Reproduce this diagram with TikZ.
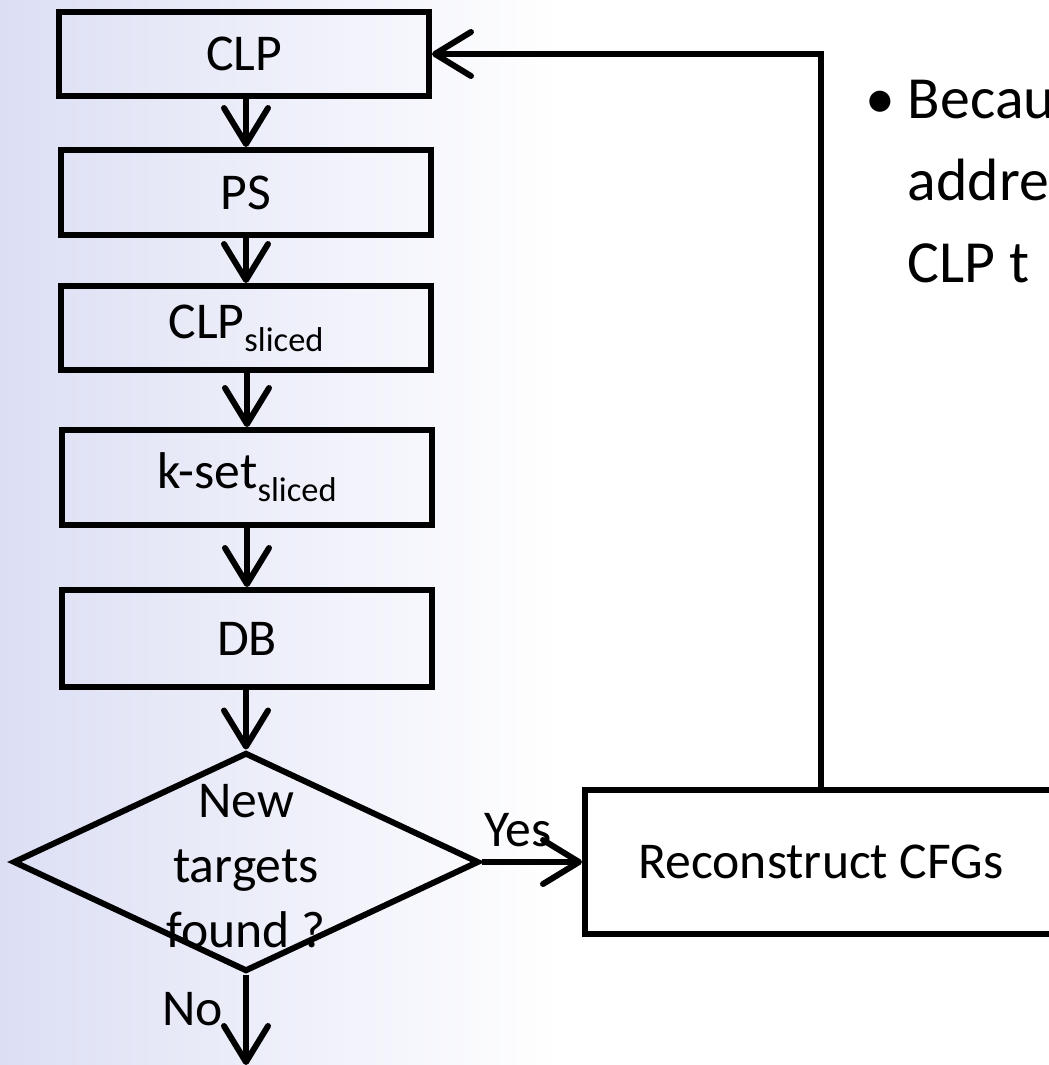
\documentclass[tikz,border=0pt]{standalone}
\usepackage{fontspec}
\setmainfont{Carlito}
\usetikzlibrary{arrows.meta,shapes.geometric}

\definecolor{bgblue}{RGB}{220,223,244}
\newcommand{\lowsub}[1]{\raisebox{-0.25em}{\fontsize{9.8}{10}\selectfont #1}}

\begin{document}
\begin{tikzpicture}[
    line width=1.7pt,
    >={Straight Barb[length=3.6mm,width=4.4mm,round]},
    every node/.style={font=\fontsize{14.7}{17.5}\selectfont},
    stepbox/.style={draw, rectangle, minimum width=3.7cm, inner sep=0pt},
    notetext/.style={anchor=base west, inner sep=0pt, font=\fontsize{17}{20}\selectfont}
  ]
  % page and background fading from lavender to white
  \useasboundingbox (0,0) rectangle (10.49,-10.65);
  \fill[white] (0,0) rectangle (10.49,-10.65);
  \shade[left color=bgblue, right color=white, draw=none] (0,0) rectangle (5.6,-10.65);
  \clip (0,0) rectangle (10.49,-10.65);

  % main column
  \node[stepbox, minimum height=0.84cm] (clp) at (2.44,-0.54) {CLP};
  \node[stepbox, minimum height=0.85cm] (ps) at (2.46,-1.925) {PS};
  \node[stepbox, minimum height=0.84cm] (clpsl) at (2.46,-3.28) {CLP\lowsub{sliced}};
  \node[stepbox, minimum height=0.95cm] (kset) at (2.47,-4.775) {k-set\lowsub{sliced}};
  \node[stepbox, minimum height=0.97cm] (db) at (2.47,-6.385) {DB};
  \node[diamond, draw, minimum width=4.66cm, minimum height=2.19cm, inner sep=0pt] (found) at (2.46,-8.62) {};
  \node[align=center, inner sep=0pt, font=\fontsize{14.7}{18.6}\selectfont] (foundtxt) at (2.46,-8.66) {New\\targets\\found ?};
  \node[draw, rectangle, minimum width=4.72cm, minimum height=1.44cm] (recon) at (8.21,-8.62) {Reconstruct CFGs};
  \coordinate (exit) at (2.46,-10.65);

  \foreach \a/\b in {clp/ps, ps/clpsl, clpsl/kset, kset/db, db/found}
    \draw[->] (\a.south -| \b.north) -- (\b.north);
  \draw[->] (found.east) -- node[pos=0.36, above=0.12cm, inner sep=0pt] (yes) {Yes} (recon.west);
  \draw[->] (found.south) -- node[pos=0.38, left=0.2cm, inner sep=0pt] (no) {No} (exit);
  \draw[->] (recon.north) |- (clp.east);

  % bullet text, cut at the right edge
  \node[anchor=base, inner sep=0pt, font=\fontsize{17}{20}\selectfont] (dot) at (8.8,-1.18) {•};
  \node[notetext] (line1) at (9.05,-1.18) {Becau};
  \node[notetext] (line2) at (9.05,-2.0) {addre};
  \node[notetext] (line3) at (9.05,-2.82) {CLP t};
\end{tikzpicture}
\end{document}
